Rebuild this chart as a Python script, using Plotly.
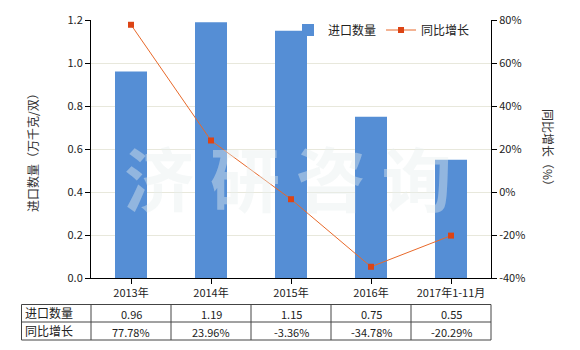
import plotly.graph_objects as go

categories = ["2013年", "2014年", "2015年", "2016年", "2017年1-11月"]
import_qty = [0.96, 1.19, 1.15, 0.75, 0.55]
yoy_growth = [77.78, 23.96, -3.36, -34.78, -20.29]
qty_labels = ["0.96", "1.19", "1.15", "0.75", "0.55"]
growth_labels = ["77.78%", "23.96%", "-3.36%", "-34.78%", "-20.29%"]
left_ticks = [0.0, 0.2, 0.4, 0.6, 0.8, 1.0, 1.2]
right_ticks = [-40, -20, 0, 20, 40, 60, 80]

W, H = 580, 350
FONT = "Noto Sans CJK SC, Microsoft YaHei, sans-serif"
x0, x1 = 91, 491
ytop, ybot = 20, 278

def px(x):
    return x / W

def py(y):
    return 1 - y / H

fig = go.Figure()
fig.add_trace(go.Bar(
    x=categories, y=import_qty, name="进口数量",
    marker=dict(color="#558ed5", line=dict(width=0)),
    width=0.4, yaxis="y",
))
fig.add_trace(go.Scatter(
    x=categories, y=yoy_growth, name="同比增长", mode="lines+markers",
    line=dict(color="#e8692a", width=1),
    marker=dict(symbol="square", size=6, color="#dc4415"),
    yaxis="y2",
))

annotations = []
# watermark
annotations.append(dict(
    text="<b>济 研 咨 询</b>", x=px(288), y=py(176), xref="paper", yref="paper",
    xanchor="center", yanchor="middle",
    showarrow=False, font=dict(size=70, family=FONT, color="rgba(232,238,238,0.42)"),
))
# axis titles
annotations.append(dict(
    text="进口数量（万千克/双）", x=px(32), y=py(150), xref="paper", yref="paper",
    xanchor="center", yanchor="middle",
    showarrow=False, textangle=-90, font=dict(size=12, family=FONT, color="#333"),
))
annotations.append(dict(
    text="同比增长（%）", x=px(549), y=py(150), xref="paper", yref="paper",
    xanchor="center", yanchor="middle",
    showarrow=False, textangle=90, font=dict(size=12, family=FONT, color="#333"),
))

# table
row_top, row_mid, row_bot = 304.5, 322, 340
shapes = []
line_style = dict(color="#444", width=1)
for yy in (row_top, row_mid, row_bot):
    shapes.append(dict(type="line", xref="paper", yref="paper",
                       x0=px(21.5), x1=px(x1), y0=py(yy), y1=py(yy), line=line_style))
for xx in [21.5] + [x0 + 80 * i for i in range(6)]:
    shapes.append(dict(type="line", xref="paper", yref="paper",
                       x0=px(xx), x1=px(xx), y0=py(row_top), y1=py(row_bot), line=line_style))

for label, yc in (("进口数量", (row_top + row_mid) / 2), ("同比增长", (row_mid + row_bot) / 2)):
    annotations.append(dict(text=label, x=px(23), y=py(yc - 0.5), xref="paper", yref="paper",
                            xanchor="left", yanchor="middle", showarrow=False,
                            font=dict(size=12, family=FONT, color="#222")))
for cat, q, g in zip(categories, qty_labels, growth_labels):
    annotations.append(dict(text=q, x=cat, y=py((row_top + row_mid) / 2 + 1), xref="x", yref="paper",
                            xanchor="center", yanchor="middle",
                            showarrow=False, font=dict(size=11, family=FONT, color="#222")))
    annotations.append(dict(text=g, x=cat, y=py((row_mid + row_bot) / 2 + 1), xref="x", yref="paper",
                            xanchor="center", yanchor="middle",
                            showarrow=False, font=dict(size=11, family=FONT, color="#222")))

fig.update_layout(
    width=W, height=H, margin=dict(l=0, r=0, t=0, b=0, pad=0, autoexpand=False),
    paper_bgcolor="white", plot_bgcolor="white",
    font=dict(family=FONT, size=11, color="#333"),
    showlegend=True,
    legend=dict(orientation="h", x=px(288), y=py(30), xanchor="left", yanchor="middle",
                bgcolor="rgba(0,0,0,0)", font=dict(size=12, family=FONT, color="#222"),
                itemwidth=30, tracegroupgap=0),
    bargap=0.6,
    xaxis=dict(domain=[px(x0), px(x1)], type="category", showline=True, linecolor="#000",
               linewidth=1, ticks="outside", ticklen=5, tickcolor="#000", automargin=False,
               tickfont=dict(size=11, family=FONT, color="#222"), showgrid=False, zeroline=False),
    yaxis=dict(domain=[py(ybot), py(ytop)], range=[0, 1.2], tickvals=left_ticks,
               ticktext=[f"{v:.1f}" for v in left_ticks], showline=True, linecolor="#000",
               linewidth=1, ticks="outside", ticklen=5, tickcolor="#000", automargin=False,
               showgrid=True, gridcolor="#e8e8dc", gridwidth=1, zeroline=False,
               tickfont=dict(size=11, family=FONT, color="#222")),
    yaxis2=dict(overlaying="y", side="right", anchor="x", range=[-40, 80], tickvals=right_ticks,
                ticktext=[f"{v}%" for v in right_ticks], showline=True, linecolor="#000",
                linewidth=1, ticks="outside", ticklen=5, tickcolor="#000", automargin=False,
                showgrid=False, zeroline=False,
                tickfont=dict(size=11, family=FONT, color="#222")),
    annotations=annotations,
    shapes=shapes,
)

fig.write_html("out.html")
